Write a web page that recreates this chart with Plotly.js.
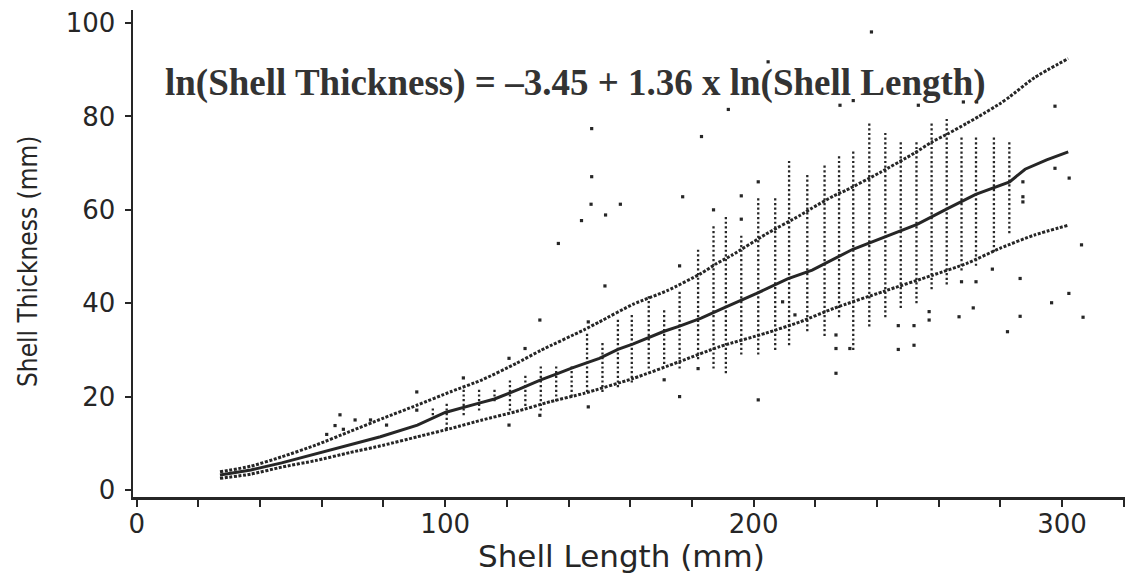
<!DOCTYPE html>
<html>
<head>
<meta charset="utf-8">
<script src="https://cdn.plot.ly/plotly-3.0.1.min.js"></script>
<style>
  html, body { margin: 0; padding: 0; background: #ffffff; }
  #chart { width: 1125px; height: 578px; }
</style>
</head>
<body>
<div id="chart"></div>
<script>
// ---- Data ----
// Fitted (solid) curve
const fitX = [27, 37, 47, 58, 69, 79, 91, 100, 111, 116, 124, 131, 136, 141, 150, 156, 161, 171, 176, 183, 190, 201, 211, 215, 219, 232, 247, 253, 263, 272, 283, 288, 295, 302];
const fitY = [3.2, 4.3, 5.8, 7.7, 9.6, 11.4, 13.9, 16.6, 18.6, 19.5, 21.6, 23.6, 24.8, 26.1, 28.2, 30.1, 31.3, 34.0, 35.1, 36.8, 38.9, 42.1, 45.2, 46.1, 47.1, 51.5, 55.4, 56.9, 60.3, 63.3, 66.0, 68.7, 70.7, 72.4];

// Upper dotted band
const upX = [27, 37, 47, 58, 69, 80, 91, 102, 112, 123, 131, 145, 150, 161, 172, 183, 188, 193, 204, 215, 219, 226, 230, 241, 252, 258, 263, 269, 273, 280, 283, 291, 302];
const upY = [3.9, 5.1, 7.1, 9.6, 12.5, 15.4, 18.2, 21.1, 23.6, 27.1, 29.9, 34.3, 36.0, 39.8, 42.7, 46.4, 48.5, 50.3, 54.8, 58.8, 60.4, 63.0, 64.2, 68.0, 72.1, 74.6, 76.3, 78.5, 80.0, 82.8, 84.2, 88.3, 92.4];

// Lower dotted band
const loX = [27, 37, 47, 58, 69, 80, 91, 102, 112, 123, 134, 145, 161, 176, 189, 204, 215, 226, 242, 258, 269, 280, 291, 302];
const loY = [2.5, 3.4, 4.9, 6.3, 8.0, 9.6, 11.4, 13.2, 15.0, 16.8, 18.9, 20.7, 23.9, 27.5, 30.7, 33.6, 36.0, 38.9, 42.5, 46.0, 48.5, 51.8, 54.6, 56.7];

// Columns of observations (length bin, lowest and highest thickness in the column)
const colX  = [96, 100.5, 106, 111, 116, 121, 126, 131, 136, 141, 146, 151, 156, 160.5, 166, 171, 176, 182, 187, 191, 196, 201.5, 207, 211.5, 217.4, 223, 227.7, 232.3, 237.5, 242.7, 247.7, 252.8, 257.7, 262.6, 267.4, 272.1, 277.9, 282.9];
const colLo = [16, 13, 16, 17, 19, 17, 18, 17, 19, 20, 21, 21, 22, 23, 26, 27, 26, 28, 26, 25, 29, 29, 30, 31, 34, 33, 37, 30, 35, 37, 39, 40, 43, 44, 47, 48, 51, 55];
const colHi = [18, 19, 22, 22, 22, 24, 25, 27, 27, 27, 34, 32, 37, 38, 42, 39, 43, 52, 57, 59, 55, 63, 63, 71, 68, 70, 72, 73, 79, 77, 75, 75, 79, 80, 76, 76, 76, 75];

// Isolated observations
const outX = [61.6, 64.3, 65.9, 67, 70.8, 75.8, 81, 90.8, 90.8, 105.9, 120.7, 120.7, 125.9, 130.7, 130.7, 136.7, 144.2, 146.4, 146.4, 147.3, 147.5, 147.5, 151.8, 152, 156.8, 171, 176, 176, 177, 182, 183.1, 187, 191.8, 196, 196, 201.5, 201.5, 204.7, 209.4, 213.4, 226.7, 226.7, 226.7, 228, 231.2, 232.3, 238.2, 246.9, 246.9, 252, 252, 253.4, 256.9, 256.9, 266.6, 267.4, 268, 271.2, 272.1, 272.3, 277.4, 282.3, 286.4, 286.4, 287.3, 287.3, 287.3, 296.6, 297.7, 297.7, 302.3, 302.2, 306.3, 306.8];
const outY = [11.9, 13.8, 16.1, 13, 15, 15, 13.9, 21, 17.1, 24, 28.2, 13.9, 30.3, 36.4, 16, 52.8, 57.7, 17.8, 36, 61.2, 67.1, 77.4, 43.7, 58.9, 61.2, 23.6, 48, 20, 62.8, 26, 75.7, 60, 81.5, 63, 58, 66, 19.3, 91.7, 40.3, 37.5, 33.2, 30.3, 25, 82.4, 30.3, 83.4, 98.1, 35.2, 30.1, 35.2, 31, 82.4, 38.2, 36.4, 37.1, 44.6, 83.1, 39, 44.6, 83.1, 47.3, 33.9, 45.3, 37.2, 66, 62.8, 61.7, 40.1, 82.2, 68.9, 66.8, 42.1, 52.5, 37];

// Axis ticks
const xTickVals = [0, 20, 40, 60, 80, 100, 120, 140, 160, 180, 200, 220, 240, 260, 280, 300, 320];
const xTickText = ['0', '', '', '', '', '100', '', '', '', '', '200', '', '', '', '', '300', ''];
const yTickVals = [0, 20, 40, 60, 80, 100];
const yTickText = ['0', '20', '40', '60', '80', '100'];

const titleX = 'Shell Length (mm)';
const titleY = 'Shell Thickness (mm)';
const equation = 'ln(Shell Thickness) = \u20133.45 + 1.36 x ln(Shell Length)';

// ---- Build traces ----
const ink = '#262626';
const colLineX = [], colLineY = [];
for (let i = 0; i < colX.length; i++) {
  colLineX.push(colX[i], colX[i], null);
  colLineY.push(colLo[i], colHi[i], null);
}

const traces = [
  { type: 'scatter', mode: 'lines', x: colLineX, y: colLineY, connectgaps: false,
    line: { color: ink, width: 2.3, dash: '2.2px,2.47px' }, hoverinfo: 'skip' },
  { type: 'scatter', mode: 'markers', x: outX, y: outY,
    marker: { color: ink, size: 3.2, symbol: 'square' }, hoverinfo: 'skip' },
  { type: 'scatter', mode: 'lines', x: upX, y: upY,
    line: { color: ink, width: 3, dash: '3px,1.6px', shape: 'spline', smoothing: 0.6 } },
  { type: 'scatter', mode: 'lines', x: loX, y: loY,
    line: { color: ink, width: 3, dash: '3px,1.6px', shape: 'spline', smoothing: 0.6 } },
  { type: 'scatter', mode: 'lines', x: fitX, y: fitY,
    line: { color: ink, width: 3 } }
];

const layout = {
  width: 1125, height: 578,
  margin: { l: 133, r: 0, t: 10, b: 81, pad: 0 },
  paper_bgcolor: '#ffffff', plot_bgcolor: '#ffffff',
  showlegend: false,
  xaxis: {
    range: [-1.2, 320.4], tickmode: 'array', tickvals: xTickVals, ticktext: xTickText,
    ticks: 'outside', ticklen: 7, tickwidth: 2, tickcolor: ink,
    showline: true, linewidth: 2.5, linecolor: ink, mirror: false,
    showgrid: false, zeroline: false, automargin: false,
    ticklabelstandoff: -5,
    tickfont: { family: 'DejaVu Sans, Verdana, sans-serif', size: 26, color: ink }
  },
  yaxis: {
    range: [-1.5, 102.8], tickmode: 'array', tickvals: yTickVals, ticktext: yTickText,
    ticks: 'outside', ticklen: 6, tickwidth: 2, tickcolor: ink,
    showline: true, linewidth: 2.5, linecolor: ink,
    showgrid: false, zeroline: false, automargin: false,
    ticklabelstandoff: 4,
    tickfont: { family: 'DejaVu Sans, Verdana, sans-serif', size: 26, color: ink }
  },
  annotations: [
    { text: titleX, xref: 'paper', yref: 'paper', x: 0.492, y: -0.121,
      xanchor: 'center', yanchor: 'middle', showarrow: false,
      font: { family: 'DejaVu Sans, Verdana, sans-serif', size: 31, color: ink } },
    { text: titleY, xref: 'paper', yref: 'paper', x: 0, xshift: -105, y: 0.4825,
      xanchor: 'center', yanchor: 'middle', textangle: -90, showarrow: false,
      font: { family: 'DejaVu Sans Condensed, Liberation Sans Narrow, sans-serif', size: 26, color: ink } },
    { text: '<b>' + equation + '</b>', xref: 'paper', yref: 'paper', x: 0.0302, y: 0.85,
      xanchor: 'left', yanchor: 'middle', showarrow: false,
      font: { family: 'Liberation Serif, Times New Roman, serif', size: 37, color: '#333333' } }
  ]
};

Plotly.newPlot('chart', traces, layout, { staticPlot: true, displayModeBar: false });
</script>
</body>
</html>
